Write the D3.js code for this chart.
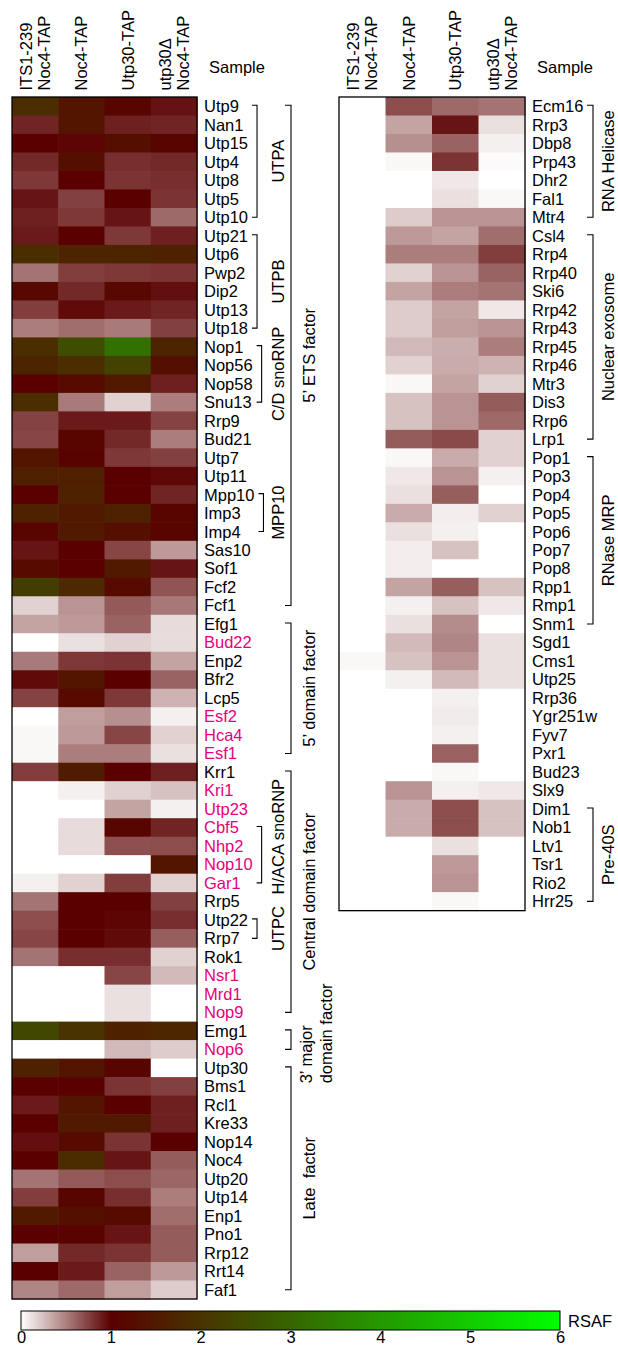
<!DOCTYPE html>
<html>
<head>
<meta charset="utf-8">
<script src="https://cdn.jsdelivr.net/npm/d3@7/dist/d3.min.js"></script>
<style>
  body { margin: 0; background: #fff; }
  svg { display: block; font-family: "Liberation Sans", Arial, sans-serif; }
  text { font-size: 16.5px; fill: #000; }
</style>
</head>
<body>
<svg id="chart" width="618" height="1347"></svg>
<script>
const samples = [["ITS1-239", "Noc4-TAP"], ["Noc4-TAP"], ["Utp30-TAP"], ["utp30\u0394", "Noc4-TAP"]];

const leftGenes = ["Utp9", "Nan1", "Utp15", "Utp4", "Utp8", "Utp5", "Utp10", "Utp21", "Utp6", "Pwp2", "Dip2", "Utp13", "Utp18",
  "Nop1", "Nop56", "Nop58", "Snu13", "Rrp9", "Bud21", "Utp7", "Utp11", "Mpp10", "Imp3", "Imp4", "Sas10", "Sof1", "Fcf2", "Fcf1",
  "Efg1", "Bud22", "Enp2", "Bfr2", "Lcp5", "Esf2", "Hca4", "Esf1", "Krr1",
  "Kri1", "Utp23", "Cbf5", "Nhp2", "Nop10", "Gar1",
  "Rrp5", "Utp22", "Rrp7", "Rok1", "Nsr1", "Mrd1", "Nop9", "Emg1", "Nop6",
  "Utp30", "Bms1", "Rcl1", "Kre33", "Nop14", "Noc4", "Utp20", "Utp14", "Enp1", "Pno1", "Rrp12", "Rrt14", "Faf1"];

const rightGenes = ["Ecm16", "Rrp3", "Dbp8", "Prp43", "Dhr2", "Fal1", "Mtr4", "Csl4", "Rrp4", "Rrp40", "Ski6", "Rrp42", "Rrp43",
  "Rrp45", "Rrp46", "Mtr3", "Dis3", "Rrp6", "Lrp1", "Pop1", "Pop3", "Pop4", "Pop5", "Pop6", "Pop7", "Pop8", "Rpp1", "Rmp1",
  "Snm1", "Sgd1", "Cms1", "Utp25", "Rrp36", "Ygr251w", "Fyv7", "Pxr1", "Bud23", "Slx9", "Dim1", "Nob1", "Ltv1", "Tsr1", "Rio2", "Hrr25"];

const magentaGenes = ["Bud22", "Esf2", "Hca4", "Esf1", "Kri1", "Utp23", "Cbf5", "Nhp2", "Nop10", "Gar1", "Nsr1", "Mrd1", "Nop9", "Nop6"];

// RSAF values, one array per sample column
const leftIts = [1.9, 0.86, 1.0, 0.84, 0.78, 0.92, 0.88, 0.9, 1.9, 0.55, 1.15, 0.76, 0.51,
  1.9, 1.7, 1.0, 1.9, 0.74, 0.73, 1.4, 1.6, 1.0, 1.65, 1.1, 0.92, 1.2, 2.2, 0.18,
  0.36, 0, 0.52, 0.96, 0.74, 0, 0.03, 0.03, 0.76,
  0, 0, 0, 0, 0, 0.06,
  0.55, 0.7, 0.73, 0.55, 0, 0, 0, 2.4, 0,
  1.65, 1.0, 0.9, 1.0, 0.94, 1.0, 0.55, 0.76, 1.5, 1.0, 0.38, 1.0, 0.48];
const leftNoc4 = [1.4, 1.4, 0.98, 1.3, 1.0, 0.75, 0.78, 1.0, 1.7, 0.76, 0.84, 0.96, 0.57,
  2.5, 1.9, 1.2, 0.52, 0.9, 1.1, 1.05, 1.6, 1.65, 1.5, 1.5, 1.0, 1.0, 1.8, 0.42,
  0.4, 0.12, 0.78, 1.4, 1.2, 0.38, 0.4, 0.51, 1.55,
  0.06, 0, 0.14, 0.14, 0, 0.18,
  1.0, 1.0, 1.0, 0.82, 0, 0, 0, 2.0, 0,
  1.4, 1.0, 1.4, 1.5, 1.2, 1.85, 0.65, 1.1, 1.3, 1.05, 0.84, 0.9, 0.59];
const leftUtp30 = [1.1, 0.88, 1.3, 0.82, 0.8, 1.0, 0.92, 0.78, 1.7, 0.78, 1.15, 0.9, 0.52,
  3.2, 2.3, 1.5, 0.18, 0.9, 0.84, 0.78, 1.0, 1.0, 1.65, 1.3, 0.73, 1.5, 1.2, 0.65,
  0.61, 0.18, 0.8, 1.0, 0.78, 0.44, 0.73, 0.51, 1.0,
  0.18, 0.36, 1.1, 0.69, 0, 0.76,
  1.0, 0.98, 0.96, 0.82, 0.73, 0.12, 0.12, 1.65, 0.27,
  1.1, 0.8, 1.0, 1.5, 0.8, 0.92, 0.7, 0.82, 1.2, 0.92, 0.8, 0.61, 0.38];
const leftDelta = [0.93, 0.86, 1.1, 0.84, 0.82, 0.8, 0.59, 0.88, 1.65, 0.8, 0.94, 0.86, 0.75,
  1.7, 1.3, 0.88, 0.51, 0.74, 0.51, 0.75, 0.97, 0.86, 1.1, 1.1, 0.4, 0.92, 0.67, 0.53,
  0.14, 0.14, 0.36, 0.61, 0.3, 0.06, 0.18, 0.12, 0.88,
  0.24, 0.06, 0.86, 0.7, 1.4, 0.18,
  0.75, 0.82, 0.63, 0.18, 0.27, 0, 0, 1.75, 0.2,
  0, 0.75, 0.88, 0.88, 1.0, 0.64, 0.6, 0.51, 0.57, 0.64, 0.64, 0.4, 0.2];

const rightIts = [0, 0, 0, 0, 0, 0, 0, 0, 0, 0, 0, 0, 0, 0, 0, 0, 0, 0, 0, 0, 0, 0,
  0, 0, 0, 0, 0, 0, 0, 0, 0.03, 0, 0, 0, 0, 0, 0, 0, 0, 0, 0, 0, 0, 0];
const rightNoc4 = [0.7, 0.36, 0.44, 0.03, 0, 0, 0.2, 0.4, 0.51, 0.18, 0.36, 0.2, 0.2, 0.27, 0.18, 0.03, 0.24, 0.24, 0.64,
  0.03, 0.09, 0.12, 0.33, 0.12, 0.07, 0.07, 0.36, 0.06, 0.12, 0.27, 0.24, 0.06, 0, 0, 0, 0, 0, 0.42, 0.33, 0.33, 0, 0, 0, 0];
const rightUtp30 = [0.59, 0.92, 0.61, 0.8, 0.09, 0.12, 0.42, 0.36, 0.51, 0.42, 0.51, 0.36, 0.38, 0.32, 0.33, 0.36, 0.42, 0.42, 0.71,
  0.33, 0.42, 0.63, 0.07, 0.06, 0.24, 0, 0.63, 0.24, 0.45, 0.48, 0.42, 0.27, 0.06, 0.08, 0.06, 0.62, 0.03, 0.06, 0.7, 0.7, 0.12, 0.4, 0.42, 0.03];
const rightDelta = [0.55, 0.12, 0.06, 0.02, 0, 0.03, 0.42, 0.57, 0.76, 0.61, 0.55, 0.09, 0.42, 0.51, 0.3, 0.18, 0.64, 0.59, 0.18,
  0.18, 0.06, 0, 0.18, 0, 0, 0, 0.24, 0.09, 0, 0.12, 0.12, 0.12, 0, 0, 0, 0, 0, 0.09, 0.24, 0.24, 0, 0, 0, 0];

// groups: [label, first gene, last gene, (gene to centre the label on)]
const leftInnerGroups = [["UTPA", "Utp9", "Utp10"], ["UTPB", "Utp21", "Utp18"], ["C/D snoRNP", "Nop1", "Snu13"],
  ["MPP10", "Mpp10", "Imp4"], ["H/ACA snoRNP", "Cbf5", "Gar1", "Kri1"], ["UTPC", "Utp22", "Rrp7"]];
const leftOuterGroups = [["5\u2019 ETS factor", "Utp9", "Fcf1"], ["5\u2019 domain factor", "Efg1", "Esf1"],
  ["Central domain factor", "Krr1", "Nop9"], ["3\u2019 major|domain factor", "Emg1", "Nop6"], ["Late  factor", "Utp30", "Faf1"]];
const rightGroups = [["RNA Helicase", "Ecm16", "Mtr4"], ["Nuclear exosome", "Csl4", "Lrp1"],
  ["RNase MRP", "Pop1", "Snm1"], ["Pre-40S", "Dim1", "Hrr25"]];

const colorTicks = [0, 1, 2, 3, 4, 5, 6];

const svg = d3.select("#chart");
const color = d3.scaleLinear().domain([0, 1, 6]).range(["#ffffff", "#5a0000", "#00ff00"]);
const topY = 97;
const rowStep = (1299 - topY) / leftGenes.length;
const magenta = "#e4007c";

function drawPanel(genes, columns, x0, x1) {
    const x = d3.scaleBand().domain(d3.range(samples.length)).range([x0, x1]);
    const y = d3.scaleBand().domain(genes).range([topY, topY + genes.length * rowStep]);
    const g = svg.append("g");

    let cells = [];
    genes.forEach((gene, r) => columns.forEach((col, c) => cells.push({ gene: gene, c: c, v: col[r] })));

    g.selectAll("rect.cell")
        .data(cells)
        .enter()
        .append("rect")
        .attr("x", d => x(d.c))
        .attr("y", d => y(d.gene))
        .attr("width", x.bandwidth() + 0.6)
        .attr("height", y.bandwidth() + 0.6)
        .attr("fill", d => color(d.v));

    g.append("rect")
        .attr("x", x0).attr("y", topY)
        .attr("width", x1 - x0).attr("height", y.range()[1] - topY)
        .attr("fill", "none").attr("stroke", "#000").attr("stroke-width", 1.3);

    // rotated sample headers
    const capH = 11.8, lineGap = 18;
    samples.forEach((lines, i) => {
        const cx = x(i) + x.bandwidth() / 2;
        lines.forEach((line, j) => {
            const bx = cx + capH / 2 + (j - (lines.length - 1) / 2) * lineGap;
            g.append("text")
                .attr("transform", `translate(${bx},90.5) rotate(-90)`)
                .text(line);
        });
    });
    g.append("text").attr("x", x1 + 12).attr("y", 72.5).text("Sample");

    const widths = {};
    g.selectAll("text.gene")
        .data(genes)
        .enter()
        .append("text")
        .classed("gene", true)
        .attr("x", x1 + 7)
        .attr("y", d => y(d) + y.bandwidth() / 2)
        .attr("dy", "0.36em")
        .style("fill", d => magentaGenes.includes(d) ? magenta : "#000")
        .text(d => d)
        .each(function (d) { widths[d] = this.getComputedTextLength(); });

    return { x: x, y: y, widths: widths, labelX: x1 + 7 };
}

function bracket(panel, grp, bx, tx, tick) {
    const y = panel.y;
    const mid = b => y(b) + y.bandwidth() / 2;
    const y1 = mid(grp[1]) - 1, y2 = mid(grp[2]);
    svg.append("path")
        .attr("d", `M${bx - tick},${y1}H${bx}V${y2}H${bx - tick}`)
        .attr("fill", "none").attr("stroke", "#000").attr("stroke-width", 1.1);

    const lines = grp[0].split("|");
    if (lines.length > 1) {
        lines.forEach((line, j) => {
            svg.append("text")
                .attr("transform", `translate(${tx - 3 + j * 20},${y2 + 34}) rotate(-90)`)
                .text(line);
        });
        return;
    }
    const cy = grp[3] ? (mid(grp[3]) + y2) / 2 : (y1 + y2) / 2;
    svg.append("text")
        .attr("transform", `translate(${tx},${cy}) rotate(-90)`)
        .attr("text-anchor", "middle")
        .style("white-space", "pre")
        .text(grp[0]);
}

const left = drawPanel(leftGenes, [leftIts, leftNoc4, leftUtp30, leftDelta], 12, 197);
const right = drawPanel(rightGenes, [rightIts, rightNoc4, rightUtp30, rightDelta], 339, 525);

leftInnerGroups.forEach(grp => {
    const i0 = leftGenes.indexOf(grp[1]), i1 = leftGenes.indexOf(grp[2]);
    const w = d3.max(leftGenes.slice(i0, i1 + 1), d => left.widths[d]);
    bracket(left, grp, left.labelX + w + 9, 284, 5);
});
leftOuterGroups.forEach(grp => bracket(left, grp, 291, 315, 6));
rightGroups.forEach(grp => bracket(right, grp, 593, 614, 6));

// colour bar
const cbX = d3.scaleLinear().domain([0, 6]).range([21, 560]);
const grad = svg.append("defs").append("linearGradient").attr("id", "rsaf");
grad.selectAll("stop")
    .data(colorTicks)
    .enter()
    .append("stop")
    .attr("offset", d => d / 6)
    .attr("stop-color", d => color(d));

svg.append("rect")
    .attr("x", cbX(0)).attr("y", 1311)
    .attr("width", cbX(6) - cbX(0)).attr("height", 19)
    .attr("fill", "url(#rsaf)").attr("stroke", "#000").attr("stroke-width", 1);

const axis = svg.append("g")
    .attr("transform", "translate(0,1330)")
    .call(d3.axisBottom(cbX).tickValues(colorTicks).tickSize(0).tickPadding(1).tickFormat(d3.format("d")));
axis.select(".domain").remove();
axis.selectAll("text").style("font-size", "16.5px").attr("fill", "#000").style("font-family", "inherit");

svg.append("text").attr("x", 568).attr("y", 1327).text("RSAF");
</script>
</body>
</html>
